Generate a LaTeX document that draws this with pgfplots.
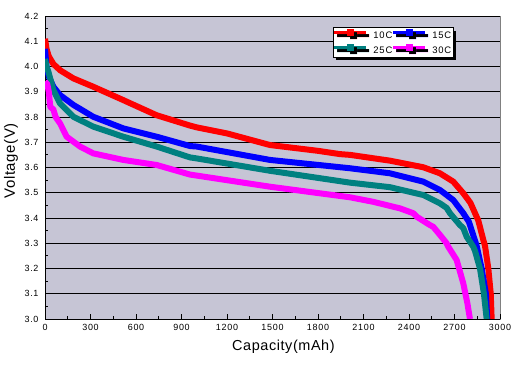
\documentclass[border=0pt]{standalone}
\usepackage{fontspec}
\setmainfont{Liberation Sans}
\newfontfamily\tickfont[LetterSpace=8]{Liberation Sans}
\newfontfamily\labfont[LetterSpace=4]{Liberation Sans}
\usepackage{pgfplots}
\pgfplotsset{compat=1.18}
\usetikzlibrary{shadows}
\definecolor{bgc}{RGB}{198,197,213}
\definecolor{c10}{RGB}{255,0,0}
\definecolor{c15}{RGB}{0,0,255}
\definecolor{c25}{RGB}{0,128,128}
\definecolor{c30}{RGB}{255,0,255}

\pgfplotsset{
  myleg/.style={
    line width=0.01bp,
    legend image code/.code={
      \path[fill=#1, draw=none] (0bp,2.2bp) rectangle (32bp,4.8bp);
      \path[fill=#1, draw=none] (12.7bp,0.2bp) rectangle (19.3bp,6.8bp);
    }
  }
}

\pgfplotstableread{
C V
0 4.11
10 4.07
25 4.04
55 4.01
100 3.985
187 3.953
318 3.92
516 3.867
736 3.807
956 3.766
1000 3.759
1200 3.735
1483 3.689
1800 3.666
1945 3.653
2011 3.650
2275 3.627
2494 3.601
2604 3.577
2692 3.544
2758 3.498
2805 3.460
2857 3.390
2890 3.313
2901 3.290
2923 3.200
2939 3.100
2945 3.000
}\tenC

\pgfplotstableread{
C V
0 4.07
10 4.00
25 3.96
55 3.92
99 3.887
187 3.848
318 3.801
516 3.755
736 3.722
956 3.685
1000 3.683
1483 3.630
2011 3.597
2275 3.577
2494 3.544
2604 3.511
2692 3.471
2758 3.419
2795 3.385
2846 3.290
2879 3.200
2907 3.100
2916 3.000
}\fifteenC

\pgfplotstableread{
C V
0 4.03
10 4.00
22 3.98
55 3.907
99 3.854
187 3.801
318 3.762
516 3.722
736 3.683
956 3.640
1000 3.636
1483 3.587
2011 3.540
2275 3.522
2494 3.491
2604 3.458
2648 3.440
2670 3.419
2736 3.372
2758 3.360
2780 3.326
2824 3.286
2835 3.270
2868 3.200
2894 3.100
2912 3.000
}\twentyfiveC

\pgfplotstableread{
C V
0 3.94
15 3.93
25 3.90
35 3.84
55 3.83
70 3.80
99 3.775
143 3.722
231 3.683
318 3.656
516 3.630
736 3.610
956 3.572
1000 3.568
1483 3.524
2011 3.482
2165 3.464
2341 3.438
2428 3.419
2451 3.405
2538 3.372
2560 3.365
2604 3.333
2648 3.300
2659 3.286
2714 3.234
2758 3.141
2785 3.062
2802 3.000
}\thirtyC

\begin{document}
\begin{tikzpicture}
\begin{axis}[
  at={(45bp,47bp)}, anchor=south west,
  scale only axis, width=455bp, height=303bp,
  xmin=0, xmax=3000, ymin=3.0, ymax=4.2,
  axis x line*=bottom, axis y line*=left,
  axis line style={black, line width=0.9bp},
  axis background/.style={fill=bgc, draw=gray, line width=0.9bp},
  xtick={0,300,...,3000},
  minor x tick num=1,
  ytick={3.0,3.1,...,4.21},
  minor y tick num=1,
  tick align=inside,
  major tick length=5bp, minor tick length=3bp,
  tick style={black, line width=0.8bp},
  ymajorgrids, grid style={black, line width=0.9bp},
  /pgf/number format/assume math mode=true,
  /pgf/number format/1000 sep={},
  yticklabel style={/pgf/number format/fixed, /pgf/number format/fixed zerofill, /pgf/number format/precision=1, font=\tickfont\fontsize{9}{10}\selectfont, xshift=-3bp},
  xticklabel style={font=\tickfont\fontsize{9}{10}\selectfont, yshift=-2bp},
  xlabel={Capacity(mAh)}, ylabel={Voltage(V)},
  xlabel style={font=\labfont\fontsize{14.5}{16}\selectfont, at={(axis description cs:0.524,-0.0914)}, anchor=center},
  ylabel style={font=\labfont\fontsize{15}{16}\selectfont, at={(axis description cs:-0.0747,0.522)}, anchor=center, rotate=0},
  legend columns=2,
  legend cell align=left,
  legend style={at={(axis description cs:0.633,0.963)}, anchor=north west,
    font=\tickfont\fontsize{9.5}{11}\selectfont, draw=black, line width=0.9bp, fill=white,
    inner xsep=1bp, inner ysep=1.5bp, row sep=3bp,
    nodes={inner sep=1bp},
    /tikz/every odd column/.append style={column sep=6bp},
    drop shadow={shadow xshift=3bp, shadow yshift=-3bp, fill=black, opacity=1}},
]
\addplot[c10, line width=6bp, line join=round, forget plot] table[x=C,y=V] {\tenC};
\addplot[c15, line width=6bp, line join=round, forget plot] table[x=C,y=V] {\fifteenC};
\addplot[c25, line width=6bp, line join=round, forget plot] table[x=C,y=V] {\twentyfiveC};
\addplot[c30, line width=6bp, line join=round, forget plot] table[x=C,y=V] {\thirtyC};
\addlegendimage{c10, myleg=c10}
\addlegendentry{10C}
\addlegendimage{c15, myleg=c15}
\addlegendentry{15C}
\addlegendimage{c25, myleg=c25}
\addlegendentry{25C}
\addlegendimage{c30, myleg=c30}
\addlegendentry{30C}
\end{axis}
\pgfresetboundingbox
\path (0,0) rectangle (525bp,366bp);
\end{tikzpicture}
\end{document}
